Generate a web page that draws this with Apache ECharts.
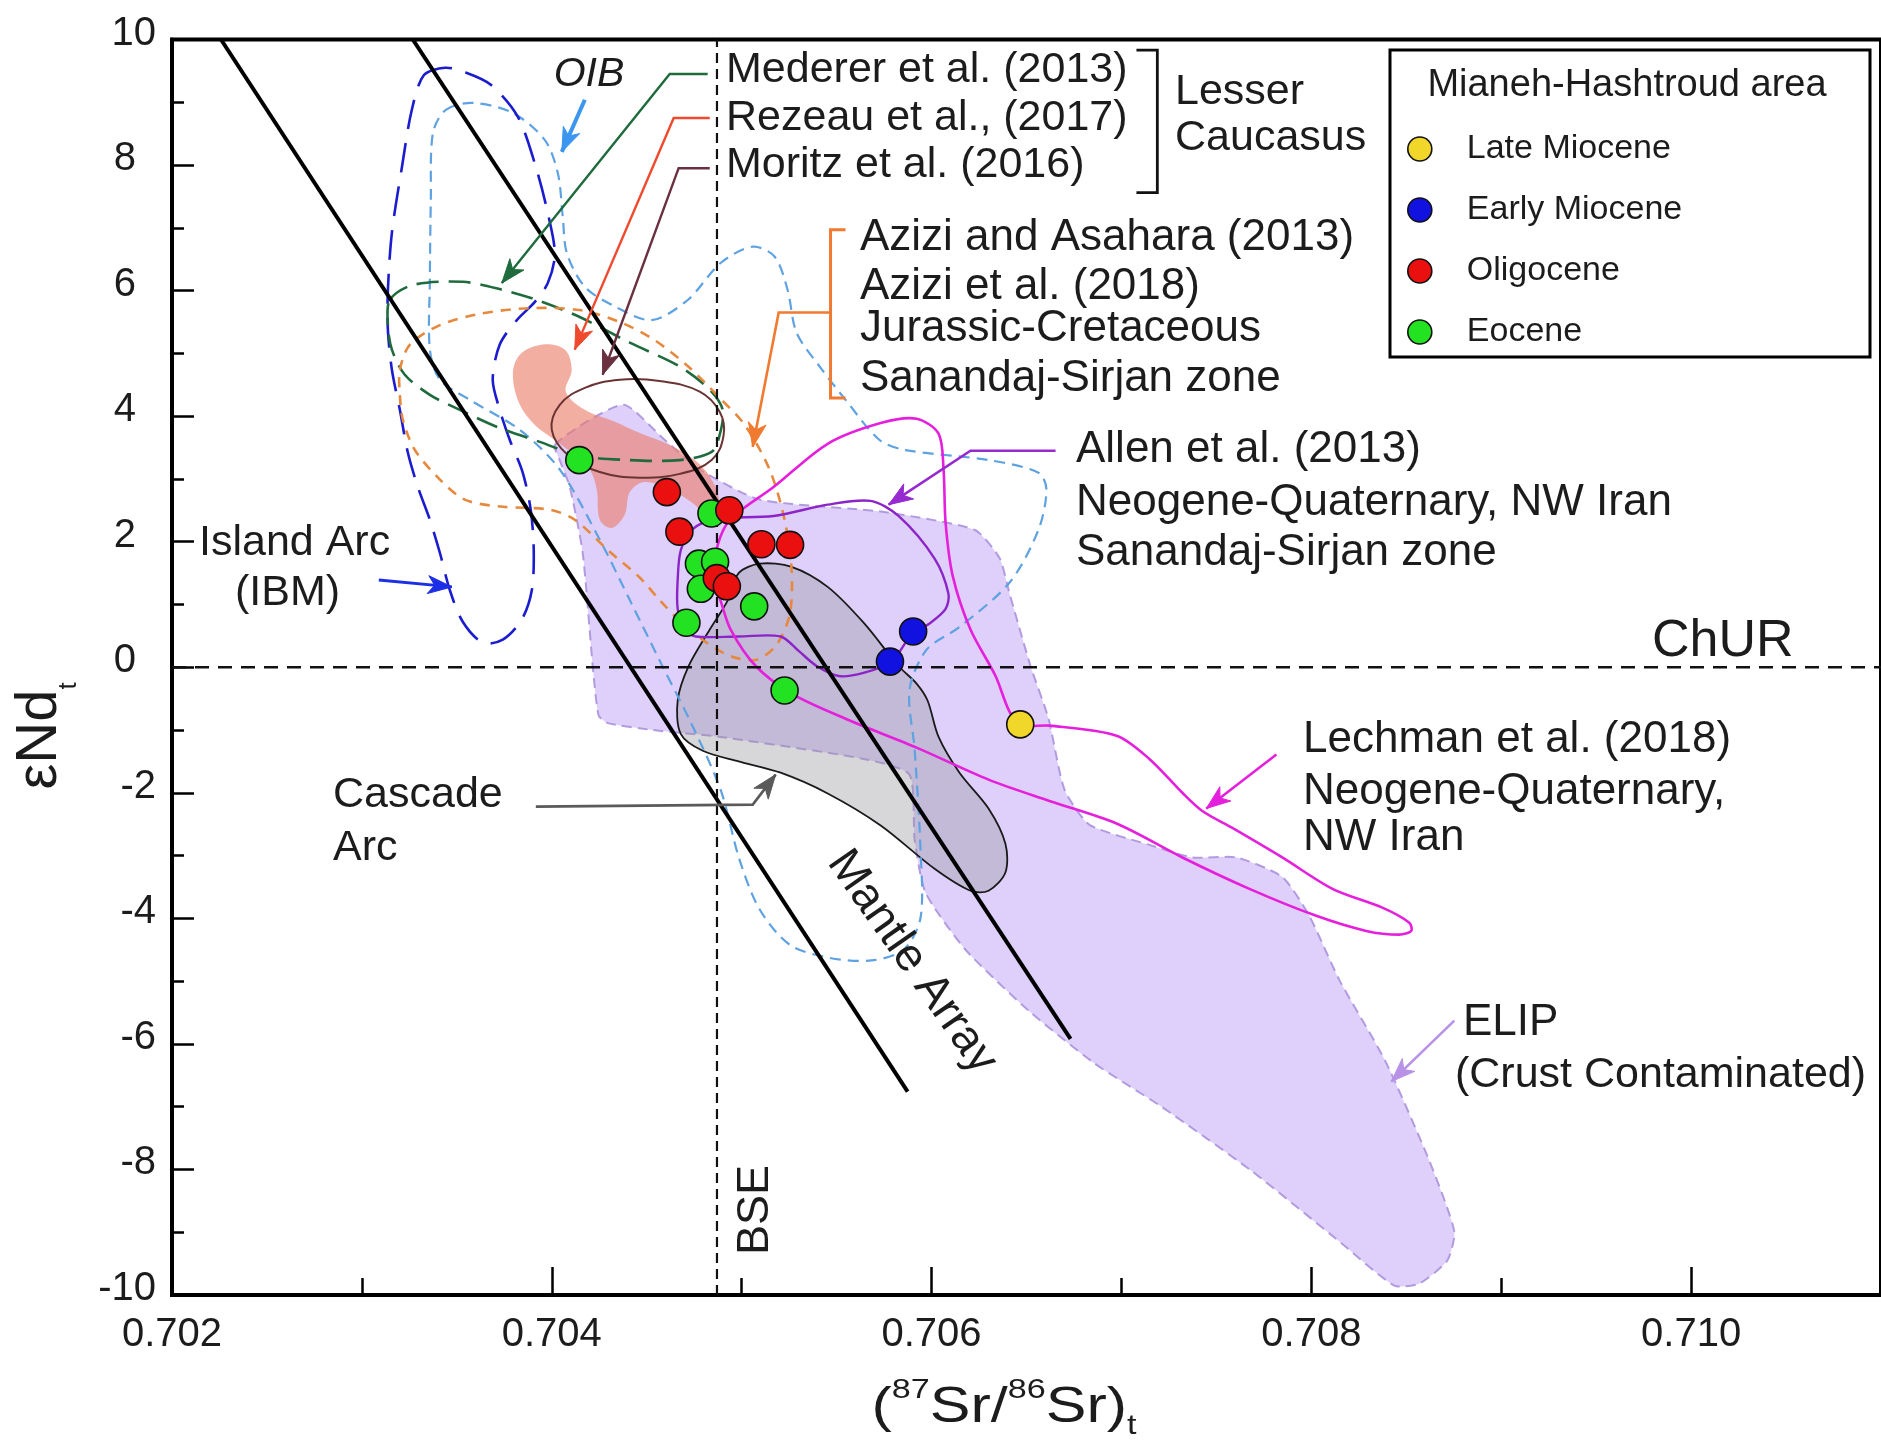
<!DOCTYPE html>
<html>
<head>
<meta charset="utf-8">
<script src="https://cdn.jsdelivr.net/npm/echarts@6/dist/echarts.min.js"></script>
<style>
  html, body { margin: 0; padding: 0; background: #fff; }
  #chart { width: 1881px; height: 1440px; }
</style>
</head>
<body>
<div id="chart"></div>
<script>
const FONT = '"Liberation Sans", Arial, Helvetica, sans-serif';

// ---- axis ranges / ticks ----
const xRange = [0.702, 0.711];
const xStep = 0.002;
const xTickValues = [0.702, 0.704, 0.706, 0.708, 0.710];
const yRange = [-10, 10];
const yStep = 2;

// ---- Mianeh-Hashtroud samples: [87Sr/86Sr(t), eNd(t)] ----
const lateMiocene  = [[0.706467, -0.91]];
const earlyMiocene = [[0.705903, 0.57], [0.705781, 0.09]];
const oligocene    = [[0.704606, 2.79], [0.704935, 2.50], [0.704672, 2.16], [0.705104, 1.96],
                      [0.705255, 1.95], [0.704869, 1.42], [0.704922, 1.29]];
const eocene       = [[0.704145, 3.30], [0.704841, 2.45], [0.704775, 1.65], [0.704860, 1.68],
                      [0.704785, 1.25], [0.704709, 0.71], [0.705066, 0.97], [0.705226, -0.37]];

// ---- reference lines ----
const mantleArrayLeft  = [[0.702258, 10], [0.705874, -6.76]];
const mantleArrayRight = [[0.703268, 10], [0.706732, -5.92]];
const bseLine  = [[0.70487, -10], [0.70487, 10]];
const churLine = [[0.702, 0], [0.711, 0]];

// ---- literature fields (closed outlines) ----
const elipField = [[0.704016,3.54],[0.704200,3.94],[0.704384,4.18],[0.704595,3.62],[0.704779,3.15],[0.705095,2.67],
  [0.705732,2.48],[0.706226,2.19],[0.706358,1.74],[0.706411,1.17],[0.706521,0.02],[0.706616,-0.82],[0.706700,-1.95],
  [0.706832,-2.51],[0.707147,-2.83],[0.707374,-3.03],[0.707605,-3.03],[0.707847,-3.34],[0.707989,-3.96],[0.708147,-4.98],
  [0.708389,-6.27],[0.708621,-7.86],[0.708753,-8.99],[0.708716,-9.45],[0.708568,-9.82],[0.708437,-9.85],[0.708153,-9.16],
  [0.707684,-8.02],[0.707211,-7.00],[0.706858,-6.31],[0.706511,-5.47],[0.706179,-4.50],[0.705968,-3.59],[0.705911,-2.75],
  [0.705884,-1.71],[0.705642,-1.46],[0.704889,-1.11],[0.704532,-1.00],[0.704295,-0.89],[0.704247,-0.77],[0.704216,0.01],
  [0.704163,1.82],[0.704095,2.87],[0.704042,3.30]];
const cascadeField = [[0.704984,1.50],[0.705095,1.65],[0.705263,1.60],[0.705453,1.28],[0.705642,0.71],[0.705826,0.02],
  [0.705921,-0.26],[0.705979,-0.53],[0.706037,-1.11],[0.706147,-1.68],[0.706300,-2.25],[0.706389,-2.81],[0.706389,-3.27],
  [0.706300,-3.56],[0.706205,-3.56],[0.706016,-3.21],[0.705732,-2.52],[0.705453,-2.01],[0.705205,-1.68],[0.704984,-1.50],
  [0.704795,-1.33],[0.704679,-1.06],[0.704663,-0.53],[0.704721,0.02],[0.704832,0.60],[0.704926,1.06]];
const rezeauField = [[0.703795,4.66],[0.703832,4.98],[0.703953,5.14],[0.704068,5.06],[0.704105,4.74],[0.704074,4.39],
  [0.704174,4.10],[0.704332,3.91],[0.704463,3.73],[0.704621,3.54],[0.704753,3.30],[0.704842,2.99],[0.704884,2.59],
  [0.704842,2.32],[0.704753,2.59],[0.704621,2.83],[0.704489,2.95],[0.704411,2.79],[0.704384,2.43],[0.704316,2.22],
  [0.704253,2.35],[0.704237,2.83],[0.704200,3.15],[0.704121,3.38],[0.704016,3.62],[0.703911,3.86],[0.703832,4.18]];
const moritzField = [[0.704000,3.78],[0.704042,4.18],[0.704174,4.45],[0.704358,4.58],[0.704568,4.56],[0.704779,4.39],
  [0.704884,4.07],[0.704905,3.70],[0.704842,3.30],[0.704674,3.08],[0.704463,3.02],[0.704253,3.11],[0.704084,3.38]];
const medererField = [[0.703147,5.85],[0.703268,6.09],[0.703532,6.14],[0.703742,6.01],[0.703921,5.85],[0.704147,5.58],
  [0.704411,5.17],[0.704674,4.79],[0.704832,4.42],[0.704900,4.10],[0.704884,3.70],[0.704842,3.43],[0.704674,3.30],
  [0.704411,3.30],[0.704147,3.37],[0.703937,3.59],[0.703726,3.81],[0.703516,4.10],[0.703358,4.34],[0.703226,4.66],
  [0.703158,5.06],[0.703137,5.45]];
const aziziField = [[0.703200,4.74],[0.703253,5.14],[0.703411,5.45],[0.703621,5.63],[0.703884,5.72],[0.704147,5.69],
  [0.704358,5.50],[0.704542,5.21],[0.704726,4.77],[0.704884,4.29],[0.705016,3.86],[0.705147,3.15],[0.705226,2.35],
  [0.705263,1.55],[0.705253,0.84],[0.705184,0.36],[0.705079,0.12],[0.704947,0.17],[0.704816,0.39],[0.704684,0.71],
  [0.704568,1.07],[0.704463,1.43],[0.704305,1.84],[0.704121,2.35],[0.703989,2.51],[0.703726,2.56],[0.703542,2.67],
  [0.703411,2.99],[0.703279,3.46],[0.703216,3.94],[0.703200,4.34]];
const oibField = [[0.703442,8.88],[0.703584,8.99],[0.703795,8.83],[0.703963,8.40],[0.704032,7.87],[0.704058,7.17],
  [0.704079,6.60],[0.704174,6.06],[0.704337,5.74],[0.704526,5.53],[0.704716,5.85],[0.704889,6.44],[0.705058,6.70],
  [0.705174,6.54],[0.705242,6.01],[0.705289,5.33],[0.705411,4.79],[0.705547,4.26],[0.705726,3.62],[0.705863,3.46],
  [0.706300,3.30],[0.706563,3.10],[0.706605,2.83],[0.706563,2.19],[0.706411,1.35],[0.706147,0.64],[0.705974,0.28],
  [0.705884,-0.36],[0.705911,-1.31],[0.705942,-2.91],[0.705942,-3.99],[0.705853,-4.50],[0.705684,-4.67],[0.705463,-4.63],
  [0.705253,-4.42],[0.705095,-3.86],[0.704989,-3.07],[0.704889,-1.95],[0.704726,-0.84],[0.704584,0.01],[0.704411,1.07],
  [0.704253,2.03],[0.704042,3.15],[0.703832,3.78],[0.703568,4.26],[0.703411,4.58],[0.703358,5.06],[0.703358,6.17],
  [0.703363,7.44],[0.703374,8.51]];
const ibmField = [[0.703326,9.43],[0.703437,9.55],[0.703542,9.48],[0.703679,9.28],[0.703821,8.77],[0.703916,7.97],
  [0.703984,7.17],[0.704016,6.57],[0.703979,6.12],[0.703911,5.82],[0.703816,5.53],[0.703726,5.14],[0.703689,4.58],
  [0.703726,4.10],[0.703779,3.62],[0.703847,3.10],[0.703889,2.51],[0.703905,1.87],[0.703895,1.23],[0.703842,0.76],
  [0.703742,0.44],[0.703637,0.39],[0.703532,0.72],[0.703463,1.23],[0.703411,1.82],[0.703358,2.35],[0.703295,2.87],
  [0.703242,3.42],[0.703200,4.10],[0.703158,4.74],[0.703137,5.37],[0.703137,6.01],[0.703158,6.92],[0.703211,7.97],
  [0.703263,8.88]];
const allenField = [[0.704737,2.19],[0.704853,2.36],[0.705168,2.41],[0.705453,2.59],[0.705679,2.65],[0.705826,2.41],
  [0.706016,1.73],[0.706089,1.17],[0.706074,0.93],[0.705995,0.71],[0.705895,0.52],[0.705789,0.09],[0.705642,-0.09],
  [0.705511,-0.14],[0.705395,0.02],[0.705300,0.26],[0.705205,0.49],[0.704984,0.49],[0.704758,0.49],[0.704700,0.60],
  [0.704663,0.93],[0.704663,1.39],[0.704679,1.86]];
const lechmanField = [[0.704942,2.36],[0.705168,2.87],[0.705453,3.56],[0.705732,3.89],[0.705921,3.96],[0.706037,3.72],
  [0.706063,3.16],[0.706074,2.30],[0.706111,1.46],[0.706205,0.60],[0.706337,-0.14],[0.706411,-0.71],[0.706474,-0.92],
  [0.706621,-0.93],[0.706974,-1.09],[0.707147,-1.46],[0.707321,-2.00],[0.707426,-2.29],[0.707584,-2.56],[0.707847,-3.03],
  [0.708111,-3.53],[0.708374,-3.83],[0.708516,-4.07],[0.708526,-4.20],[0.708463,-4.26],[0.708289,-4.20],[0.708026,-3.96],
  [0.707674,-3.53],[0.707321,-3.03],[0.706974,-2.49],[0.706621,-2.13],[0.706300,-1.79],[0.705921,-1.28],[0.705547,-0.82],
  [0.705263,-0.42],[0.705074,0.02],[0.704942,0.60],[0.704889,1.06],[0.704853,1.39],[0.704874,1.95]];

// ---- leader arrows and brackets (data space) ----
const arrowMederer = [[0.704821,9.45],[0.704621,9.45],[0.703737,6.12]];
const arrowRezeau  = [[0.704832,8.75],[0.704642,8.75],[0.704121,5.06]];
const arrowMoritz  = [[0.704832,7.95],[0.704668,7.95],[0.704268,4.66]];
const bracketLesser = [[0.707079,9.83],[0.707189,9.83],[0.707189,7.56],[0.707079,7.56]];
const bracketAzizi  = [[0.705547,6.97],[0.705468,6.97],[0.705468,4.29],[0.705547,4.29]];
const arrowAzizi   = [[0.705468,5.65],[0.705195,5.65],[0.705058,3.51]];
const arrowAllen   = [[0.706653,3.45],[0.706205,3.45],[0.705774,2.59]];
const arrowLechman = [[0.707816,-1.39],[0.707447,-2.25]];
const arrowElip    = [[0.708753,-5.63],[0.708421,-6.60]];
const arrowIbm     = [[0.703089,1.39],[0.703474,1.28]];
const arrowCascade = [[0.703916,-2.22],[0.705058,-2.19],[0.705179,-1.71]];
const arrowOib     = [[0.704174,9.04],[0.704053,8.21]];

// ---- drawing helpers ----
function fieldSeries(name, pts, st, z) {
  return {
    type: 'custom', name, data: pts, z, silent: true, animation: false,
    renderItem(params, api) {
      if (params.dataIndex !== 0) return null;
      const points = pts.map(p => api.coord(p));
      return {
        type: 'polygon',
        shape: { points, smooth: st.smooth == null ? 0.3 : st.smooth },
        style: {
          fill: st.fill || 'none',
          stroke: st.stroke || 'none',
          lineWidth: st.lineWidth || 0,
          lineDash: st.lineDash || null
        }
      };
    }
  };
}

function headPoints(p, q, len, half) {
  const dx = q[0] - p[0], dy = q[1] - p[1];
  const L = Math.hypot(dx, dy) || 1;
  const ux = dx / L, uy = dy / L, nx = -uy, ny = ux;
  const bx = q[0] - ux * len, by = q[1] - uy * len;
  return [q, [bx + nx * half, by + ny * half], [q[0] - ux * len * 0.72, q[1] - uy * len * 0.72],
          [bx - nx * half, by - ny * half]];
}

function pathSeries(name, pts, color, width, withHead, z) {
  return {
    type: 'custom', name, data: pts, z: z || 6, silent: true, animation: false,
    renderItem(params, api) {
      if (params.dataIndex !== 0) return null;
      const points = pts.map(p => api.coord(p));
      const children = [{
        type: 'polyline', shape: { points },
        style: { stroke: color, lineWidth: width, fill: 'none' }
      }];
      if (withHead) {
        const n = points.length;
        children.push({
          type: 'polygon',
          shape: { points: headPoints(points[n - 2], points[n - 1], 24, 9) },
          style: { fill: color, stroke: color, lineWidth: 1 }
        });
      }
      return { type: 'group', children };
    }
  };
}

function lineSeries(name, pts, color, width, dash, z) {
  return {
    type: 'line', name, data: pts, z, silent: true, animation: false,
    symbol: 'none', lineStyle: { color, width, type: dash || 'solid' }
  };
}

function pointSeries(name, pts, color, z) {
  return {
    type: 'scatter', name, data: pts, z, animation: false,
    symbol: 'circle', symbolSize: 27,
    itemStyle: { color, borderColor: '#111', borderWidth: 1.6, opacity: 1 }
  };
}

// ---- annotation text ----
const TXT = '#1c1c1c';
function label(text, x, y, size, extra) {
  return Object.assign({
    type: 'text', x, y, z: 120, silent: true,
    style: Object.assign({
      text, fill: TXT, fontSize: size || 43, fontFamily: FONT,
      align: 'left', verticalAlign: 'middle'
    }, (extra && extra.style) || {})
  }, extra ? { rotation: extra.rotation || 0 } : {});
}

const chart = echarts.init(document.getElementById('chart'), null, { renderer: 'canvas' });

const option = {
  backgroundColor: '#ffffff',
  animation: false,
  grid: {
    left: 172, top: 39.5, right: 0, bottom: 145,
    show: true, borderColor: '#000', borderWidth: 4, backgroundColor: 'transparent'
  },
  xAxis: {
    type: 'value', min: xRange[0], max: xRange[1], interval: xStep,
    axisLine: { show: true, onZero: false, lineStyle: { color: '#000', width: 4 } },
    axisTick: { show: true, inside: true, length: 28, customValues: xTickValues,
                lineStyle: { color: '#000', width: 2.5 } },
    minorTick: { show: true, splitNumber: 2, length: 17, lineStyle: { color: '#000', width: 2.5 } },
    splitLine: { show: false }, minorSplitLine: { show: false },
    axisLabel: {
      fontSize: 40, fontFamily: FONT, color: TXT, margin: 20,
      customValues: xTickValues,
      formatter: v => v.toFixed(3)
    }
  },
  yAxis: {
    type: 'value', min: yRange[0], max: yRange[1], interval: yStep,
    axisLine: { show: true, onZero: false, lineStyle: { color: '#000', width: 4 } },
    axisTick: { show: true, inside: true, length: 22, lineStyle: { color: '#000', width: 2.5 } },
    minorTick: { show: true, splitNumber: 2, length: 12, lineStyle: { color: '#000', width: 2.5 } },
    splitLine: { show: false }, minorSplitLine: { show: false },
    axisLabel: {
      fontSize: 40, fontFamily: FONT, color: TXT, margin: 16, padding: [0, 0, 12, 0],
      formatter: v => (v >= 0 && v < 10) ? '{p|' + v + '}' : String(v),
      rich: { p: { fontSize: 40, fontFamily: FONT, color: TXT, padding: [0, 20, 0, 0] } }
    }
  },
  legend: {
    data: ['Late Miocene', 'Early Miocene', 'Oligocene', 'Eocene'],
    orient: 'vertical', left: 1402, top: 127,
    icon: 'circle', itemWidth: 24, itemHeight: 24, itemGap: 27,
    selectedMode: false, z: 200,
    itemStyle: { borderColor: '#111', borderWidth: 1.6 },
    textStyle: { fontSize: 34, lineHeight: 32, fontFamily: FONT, color: TXT, padding: [0, 0, 0, 30] }
  },
  graphic: [
    // legend frame
    { type: 'rect', z: 150, silent: true, shape: { x: 1390, y: 50, width: 480, height: 307 },
      style: { fill: '#fff', stroke: '#000', lineWidth: 3 } },
    { type: 'text', z: 160, x: 1627, y: 86, silent: true,
      style: { text: 'Mianeh-Hashtroud area', fontSize: 38, fontFamily: FONT, fill: TXT, align: 'center', verticalAlign: 'middle' } },

    // axis titles
    { type: 'text', z: 120, x: 1004, y: 1408, scaleX: 1.22, silent: true,
      style: {
        text: '{m|(}{s|87}{m|Sr/}{s|86}{m|Sr)}{b|t}', align: 'center', verticalAlign: 'middle',
        rich: {
          m: { fontSize: 50, fontFamily: FONT, fill: TXT, lineHeight: 64 },
          s: { fontSize: 28, fontFamily: FONT, fill: TXT, lineHeight: 22, verticalAlign: 'top' },
          b: { fontSize: 28, fontFamily: FONT, fill: TXT, lineHeight: 26, verticalAlign: 'bottom' }
        }
      } },
    { type: 'text', z: 120, x: 40, y: 736, rotation: Math.PI / 2, silent: true,
      style: {
        text: '{m|εNd}{b|t}', align: 'center', verticalAlign: 'middle',
        rich: {
          m: { fontSize: 58, fontFamily: FONT, fill: TXT, lineHeight: 84 },
          b: { fontSize: 26, fontFamily: FONT, fill: TXT, lineHeight: 18, verticalAlign: 'bottom' }
        }
      } },

    // field annotations
    label('OIB', 589, 75, 41, { style: { fontStyle: 'italic', align: 'center' } }),
    label('Mederer et al. (2013)', 726, 70),
    label('Rezeau et al., (2017)', 726, 118),
    label('Moritz et al. (2016)', 726, 165),
    label('Lesser', 1175, 92),
    label('Caucasus', 1175, 138),
    label('Azizi and Asahara (2013)', 860, 238, 44),
    label('Azizi et al. (2018)', 860, 287, 44),
    label('Jurassic-Cretaceous', 860, 329, 44),
    label('Sanandaj-Sirjan zone', 860, 379, 44),
    label('Allen et al. (2013)', 1076, 450, 44),
    label('Neogene-Quaternary, NW Iran', 1076, 503, 44),
    label('Sanandaj-Sirjan zone', 1076, 553, 44),
    label('ChUR', 1652, 642, 52),
    label('Lechman et al. (2018)', 1303, 740, 44),
    label('Neogene-Quaternary,', 1303, 792, 44),
    label('NW Iran', 1303, 838, 44),
    label('ELIP', 1463, 1023, 44),
    label('(Crust Contaminated)', 1455, 1075, 43),
    label('Island Arc', 199, 543),
    label('(IBM)', 235, 593),
    label('Cascade', 333, 795),
    label('Arc', 333, 848),
    label('Mantle Array', 912, 962, 46, { rotation: -55 * Math.PI / 180, style: { align: 'center' } }),
    label('BSE', 756, 1210, 45, { rotation: Math.PI / 2, style: { align: 'center' } })
  ],
  series: [
    // filled fields
    fieldSeries('ELIP', elipField, { fill: '#ded0fa', stroke: '#b29ae0', lineWidth: 2, lineDash: [10, 6], smooth: 0.2 }, 1),
    fieldSeries('Cascade Arc', cascadeField, { fill: 'rgba(150,150,158,0.38)', stroke: '#1a1a1a', lineWidth: 1.8, smooth: 0.3 }, 2),
    fieldSeries('Rezeau', rezeauField, { fill: 'rgba(236,125,105,0.62)', smooth: 0.35 }, 2),

    // outlined fields
    fieldSeries('OIB', oibField, { stroke: '#5ea2e2', lineWidth: 2.2, lineDash: [11, 7], smooth: 0.3 }, 3),
    fieldSeries('Island Arc', ibmField, { stroke: '#1c1ccf', lineWidth: 2.6, lineDash: [30, 14], smooth: 0.3 }, 3),
    fieldSeries('Mederer', medererField, { stroke: '#1f6b3e', lineWidth: 2.6, lineDash: [22, 10], smooth: 0.3 }, 3),
    fieldSeries('Azizi', aziziField, { stroke: '#e6893e', lineWidth: 2.6, lineDash: [10, 8], smooth: 0.3 }, 3),
    fieldSeries('Moritz', moritzField, { stroke: '#6a3434', lineWidth: 2, smooth: 0.4 }, 3),
    fieldSeries('Allen', allenField, { stroke: '#8c24c8', lineWidth: 2.4, smooth: 0.3 }, 4),
    fieldSeries('Lechman', lechmanField, { stroke: '#e520dc', lineWidth: 2.6, smooth: 0.3 }, 4),

    // reference lines
    lineSeries('Mantle Array L', mantleArrayLeft, '#000', 4, 'solid', 5),
    lineSeries('Mantle Array R', mantleArrayRight, '#000', 4, 'solid', 5),
    lineSeries('BSE', bseLine, '#111', 2.2, [10, 6], 5),
    lineSeries('ChUR', churLine, '#111', 2.4, [14, 9], 5),

    // leaders
    pathSeries('a-mederer', arrowMederer, '#1f6b3e', 2.4, true),
    pathSeries('a-rezeau', arrowRezeau, '#f04a2e', 2.4, true),
    pathSeries('a-moritz', arrowMoritz, '#6a3040', 2.4, true),
    pathSeries('b-lesser', bracketLesser, '#111', 2.8, false),
    pathSeries('b-azizi', bracketAzizi, '#f07a30', 3, false),
    pathSeries('a-azizi', arrowAzizi, '#f07a30', 2.6, true),
    pathSeries('a-allen', arrowAllen, '#962ad0', 2.6, true),
    pathSeries('a-lechman', arrowLechman, '#e520dc', 2.6, true),
    pathSeries('a-elip', arrowElip, '#b892e6', 2.6, true),
    pathSeries('a-ibm', arrowIbm, '#1c2ee6', 2.8, true),
    pathSeries('a-cascade', arrowCascade, '#5a5a5a', 2.8, true),
    pathSeries('a-oib', arrowOib, '#3c96f0', 4, true),

    // samples
    pointSeries('Eocene', eocene, '#22e222', 10),
    pointSeries('Oligocene', oligocene, '#ea1010', 11),
    pointSeries('Early Miocene', earlyMiocene, '#1212e0', 12),
    pointSeries('Late Miocene', lateMiocene, '#f0d72a', 12)
  ]
};

chart.setOption(option);
</script>
</body>
</html>
